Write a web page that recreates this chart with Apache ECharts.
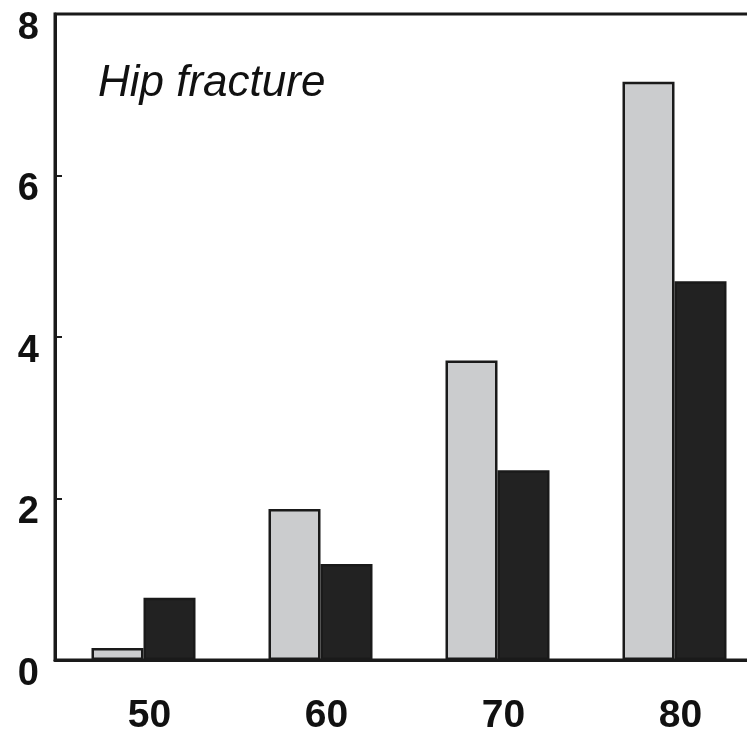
<!DOCTYPE html>
<html>
<head>
<meta charset="utf-8">
<script src="https://cdn.jsdelivr.net/npm/echarts@6/dist/echarts.min.js"></script>
<style>
html,body{margin:0;padding:0;background:#fff;}
#chart{width:747px;height:735px;}
</style>
</head>
<body>
<div id="chart"></div>
<script>
const categories = ['50', '60', '70', '80'];
const seriesGray = [0.15, 1.87, 3.71, 7.16];
const seriesBlack = [0.77, 1.19, 2.35, 4.69];
const yTicks = [0, 2, 4, 6, 8];
const titleText = 'Hip fracture';

const chart = echarts.init(document.getElementById('chart'), null, {renderer: 'canvas'});
const option = {
  animation: false,
  backgroundColor: '#ffffff',
  title: {
    text: titleText,
    left: 93,
    top: 57,
    textStyle: {
      fontFamily: 'Liberation Sans, Arial, sans-serif',
      fontStyle: 'italic',
      fontWeight: 'normal',
      fontSize: 44,
      color: '#111'
    }
  },
  grid: {
    left: 55, top: 14, height: 646, width: 708,
    outerBoundsMode: 'none',
    containLabel: false,
    show: true,
    borderColor: '#1a1a1a',
    borderWidth: 3,
    backgroundColor: 'transparent'
  },
  xAxis: {
    type: 'category',
    data: categories,
    axisLine: {show: true, lineStyle: {color: '#1a1a1a', width: 3}},
    axisTick: {show: false},
    axisLabel: {
      margin: 37,
      fontFamily: 'Liberation Sans, Arial, sans-serif',
      fontWeight: 'bold',
      fontSize: 39,
      color: '#111',
      padding: [0, 0, 0, 12]
    }
  },
  yAxis: {
    type: 'value',
    min: yTicks[0],
    max: yTicks[yTicks.length - 1],
    interval: 2,
    splitLine: {show: false},
    axisLine: {show: true, lineStyle: {color: '#1a1a1a', width: 3}},
    axisTick: {show: true, inside: true, length: 7, lineStyle: {color: '#1a1a1a', width: 2}},
    axisLabel: {
      margin: 16,
      fontFamily: 'Liberation Sans, Arial, sans-serif',
      fontWeight: 'bold',
      fontSize: 38,
      color: '#111',
      verticalAlign: 'top',
      lineHeight: 29
    }
  },
  series: [
    {
      type: 'bar',
      data: seriesGray,
      barWidth: 52,
      barGap: '0%',
      itemStyle: {color: '#cbccce', borderColor: '#1a1a1a', borderWidth: 2.5}
    },
    {
      type: 'bar',
      data: seriesBlack,
      barWidth: 52,
      itemStyle: {color: '#222222', borderColor: '#1a1a1a', borderWidth: 2.5}
    }
  ]
};
chart.setOption(option);
</script>
</body>
</html>
